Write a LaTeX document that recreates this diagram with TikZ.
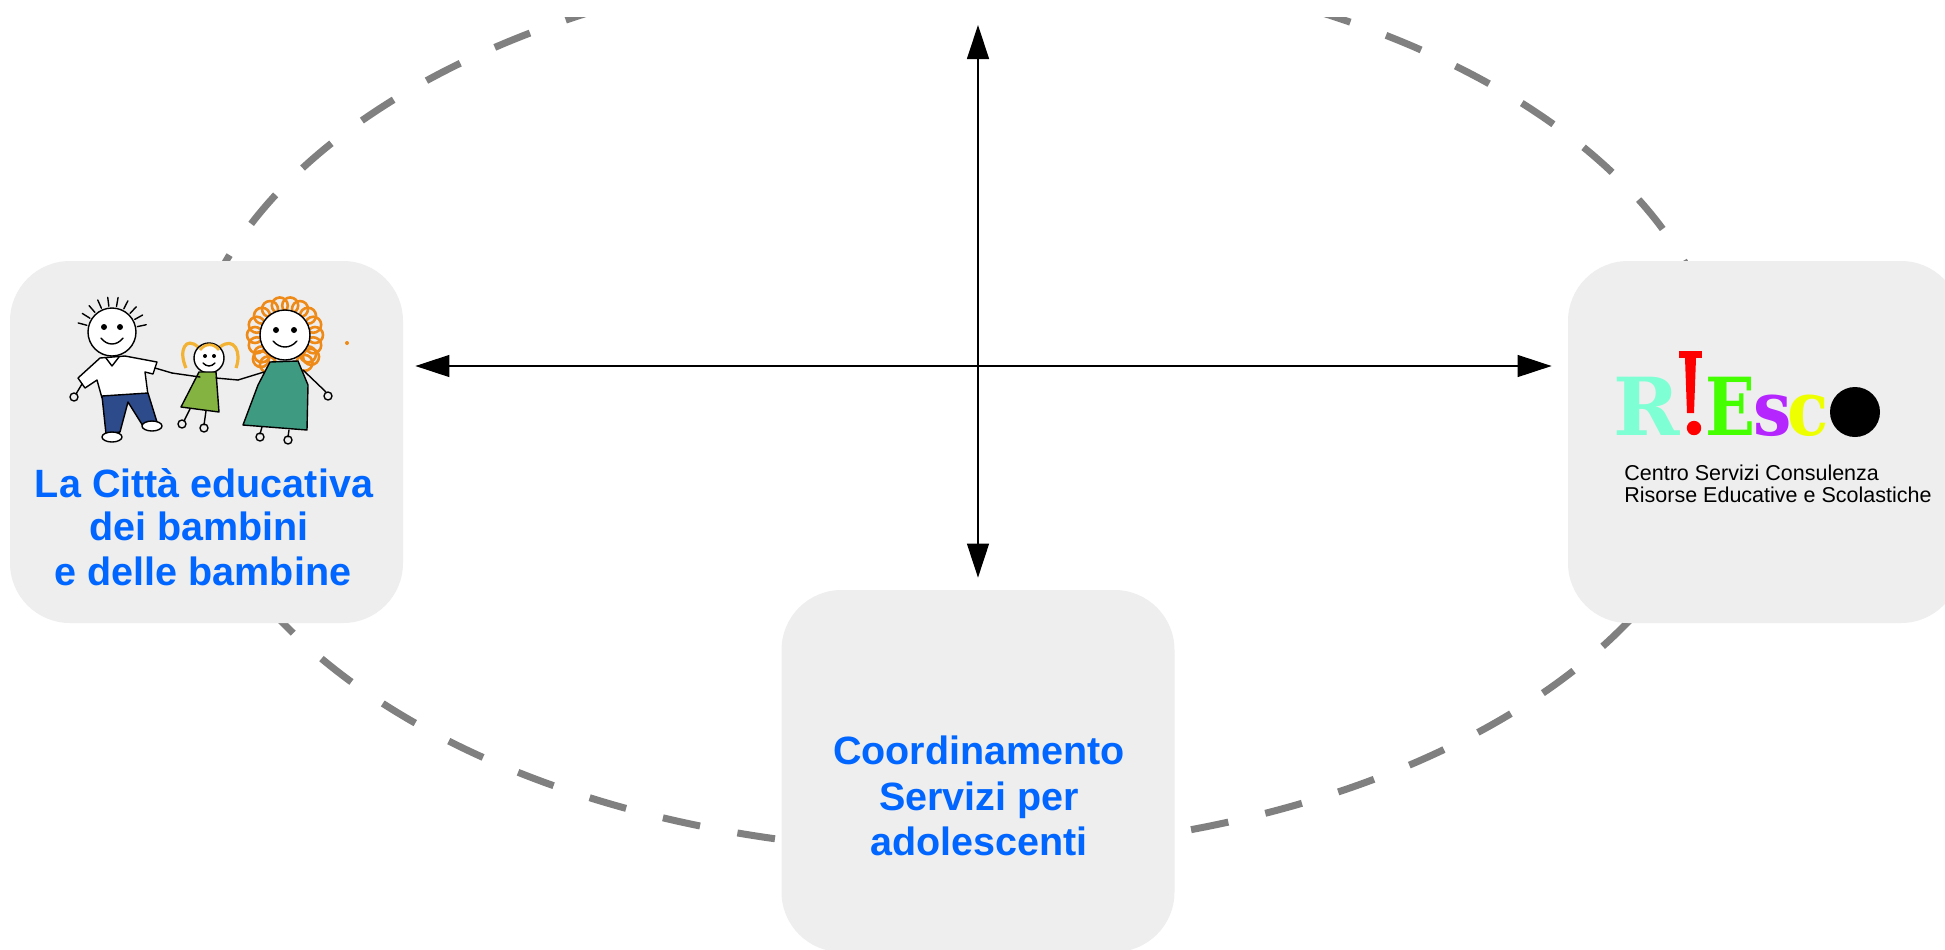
\documentclass[tikz,border=0pt]{standalone}
\usepackage{fontspec}
\setmainfont{Liberation Sans}
\newfontfamily\logofont{DejaVu Serif}
\usetikzlibrary{arrows.meta}
\definecolor{boxgray}{HTML}{EEEEEE}
\definecolor{ellgray}{HTML}{808080}
\definecolor{tblue}{HTML}{0066FF}
\definecolor{logoR}{HTML}{7FFFD4}
\definecolor{logoI}{HTML}{FF0000}
\definecolor{logoE}{HTML}{44FF00}
\definecolor{logoS}{HTML}{B526FF}
\definecolor{logoC}{HTML}{EEFF00}
\definecolor{pants}{HTML}{2D4A8A}
\definecolor{gdress}{HTML}{84B342}
\definecolor{mdress}{HTML}{3E9B82}
\definecolor{ghair}{HTML}{F2B234}
\definecolor{mhair}{HTML}{EE8A18}
\begin{document}
\begin{tikzpicture}[x=0.5pt,y=-0.5pt,
  card/.style={rectangle, fill=boxgray, draw=none, inner sep=0pt,
    minimum width=196.5pt, minimum height=181pt, rounded corners=30pt},
  bigtxt/.style={anchor=base, inner sep=0pt, text=tblue,
    font=\fontsize{19.75}{22}\selectfont\bfseries},
  smalltxt/.style={anchor=base west, inner sep=0pt, text=black,
    font=\fontsize{10.75}{11}\selectfont},
  logo/.style={anchor=base, inner sep=0pt, font=\logofont\bfseries\fontsize{40}{40}\selectfont},
  ell/.style={draw=ellgray, line width=3.5pt, dash pattern=on 19pt off 19pt, dash phase=19pt},
  arr/.style={line width=0.65pt, {Triangle[length=17pt,width=11pt]}-{Triangle[length=17pt,width=11pt]}},
  ink/.style={draw=black, line width=0.7pt, line join=round, line cap=round}]
\useasboundingbox (0,0) rectangle (1945,949);
\fill[white] (0,0) rectangle (1945,949);
% dashed ellipse
\begin{scope}
  \clip (0,17) rectangle (1945,949);
  \draw[ell] (955,405) ellipse [x radius=385pt, y radius=223pt];
\end{scope}
% cards
\node[card] (L) at (206.5,442) {};
\node[card] (R) at (1764.5,442) {};
\node[card] (B) at (978,771) {};
% children drawing (left card)
\begin{scope}
  % boy
  \foreach \a in {195,212,...,350} \draw[ink] (112,332) ++(\a:26) -- ++(\a:9);
  \filldraw[ink, fill=white] (112,332) circle[radius=12pt];
  \fill (104,327) circle[radius=1.5pt];
  \fill (120,327) circle[radius=1.5pt];
  \draw[ink] (101,338) .. controls (107,346) and (117,346) .. (123,338);
  \filldraw[ink, fill=white] (100,358) -- (125,356) -- (157,362) -- (153,374) -- (145,372) -- (148,395) -- (102,398) -- (97,380) -- (85,388) -- (78,378) -- cycle;
  \draw[ink] (106,358) -- (112,366) -- (119,357);
  \filldraw[ink, fill=pants] (102,396) -- (148,393) -- (157,422) -- (143,426) -- (128,402) -- (120,432) -- (106,434) -- cycle;
  \filldraw[ink, fill=white] (112,437) ellipse [x radius=5pt, y radius=2.5pt];
  \filldraw[ink, fill=white] (152,426) ellipse [x radius=5pt, y radius=2.5pt];
  \draw[ink] (82,384) -- (76,394);
  \draw[ink] (74,397) circle[radius=2pt];
  \draw[ink] (155,368) -- (172,373);
  % girl
  \draw[ghair, line width=1.6pt] (198,347) .. controls (186,336) and (178,350) .. (186,368);
  \draw[ghair, line width=1.6pt] (220,347) .. controls (234,336) and (242,352) .. (236,368);
  \filldraw[ink, fill=white] (209,358) circle[radius=7.5pt];
  \draw[ghair, line width=1.4pt] (200,350) .. controls (205,343) and (214,343) .. (219,350);
  \fill (205,356) circle[radius=1pt];
  \fill (214,356) circle[radius=1pt];
  \draw[ink] (203,363) .. controls (207,367) and (211,367) .. (215,363);
  \filldraw[ink, fill=gdress] (199,372) -- (216,372) -- (219,412) -- (181,407) -- cycle;
  \draw[ink] (172,373) -- (200,377);
  \draw[ink] (216,378) -- (238,380);
  \draw[ink] (190,409) -- (184,421);
  \draw[ink] (206,411) -- (204,425);
  \draw[ink] (182,424) circle[radius=2pt];
  \draw[ink] (204,428) circle[radius=2pt];
  % mother
  \foreach \a in {140,160,...,400} \draw[mhair, line width=1.3pt] (285,335) ++(\a:30) circle[radius=4pt];
  \foreach \a in {120,135,55,40} \draw[mhair, line width=1.3pt] (285,335) ++(\a:34) circle[radius=4pt];
  \filldraw[ink, fill=white] (285,335) circle[radius=12.5pt];
  \fill (276,330) circle[radius=1.5pt];
  \fill (294,330) circle[radius=1.5pt];
  \draw[ink] (273,341) .. controls (280,349) and (290,349) .. (297,341);
  \filldraw[ink, fill=mdress] (270,362) -- (298,361) -- (308,385) -- (307,430) -- (243,425) -- (258,385) -- cycle;
  \draw[ink] (264,372) -- (238,380);
  \draw[ink] (303,370) -- (326,392);
  \draw[ink] (328,396) circle[radius=2pt];
  \draw[ink] (262,427) -- (260,434);
  \draw[ink] (289,430) -- (288,437);
  \draw[ink] (260,437) circle[radius=2pt];
  \draw[ink] (288,440) circle[radius=2pt];
  \fill[mhair] (347,343) circle[radius=1pt];
\end{scope}
% left card text
\node[bigtxt] (l1) at (204,497) {La Città educativa};
\node[bigtxt] (l2) at (199,540) {dei bambini};
\node[bigtxt] (l3) at (203,585) {e delle bambine};
% bottom card text
\node[bigtxt] (b1) at (979,764) {Coordinamento};
\node[bigtxt] (b2) at (979,810) {Servizi per};
\node[bigtxt] (b3) at (979,855) {adolescenti};
% RIESCO logo
\node[logo, text=logoR] (gR) at (1647,435) {R};
\fill[logoI] (1679,351) rectangle (1702,358);
\fill[logoI] (1685,358) -- (1696,358) -- (1694,413) -- (1687,413) -- cycle;
\fill[logoI] (1694,428) circle[radius=3.6pt];
\node[logo, text=logoE] (gE) at (1730,435) {\scalebox{0.82}[1]{E}};
\node[logo, text=logoS] (gS) at (1773,435) {\scalebox{0.85}[0.95]{s}};
\node[logo, text=logoC] (gC) at (1808,435) {\scalebox{0.85}[0.95]{c}};
\fill[black] (1855,412) circle[radius=12.5pt];
\node[smalltxt] (r1) at (1624,480) {Centro Servizi Consulenza};
\node[smalltxt] (r2) at (1624,502) {Risorse Educative e Scolastiche};
% arrows
\coordinate (top) at (978,25);
\draw[arr, shorten <=6pt, shorten >=8pt] ([yshift=38pt]L.east) -- ([yshift=38pt]R.west);
\draw[arr, shorten >=6pt] (top) -- (B.north);
\end{tikzpicture}
\end{document}
